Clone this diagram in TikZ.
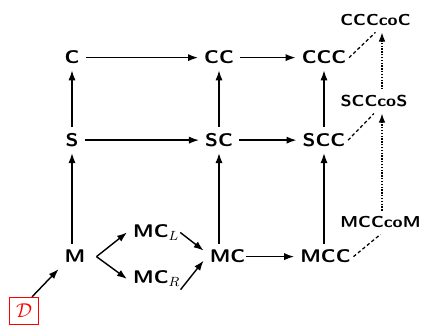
\documentclass[tikz,border=0pt]{standalone}
\usetikzlibrary{arrows.meta}
\newcommand\wtxt[1]{\scalebox{1.15}[1]{#1}}
\begin{document}
\begin{tikzpicture}[x=0.6pt,y=-0.6pt,
  lbl/.style={font=\fontsize{11}{13}\selectfont\sffamily\bfseries, inner sep=3.5pt},
  colbl/.style={font=\fontsize{9.5}{11}\selectfont\sffamily\bfseries, inner sep=3.5pt},
  arr/.style={-{Latex[length=6pt,width=4.3pt]}, line width=0.85pt},
  dsh/.style={dash pattern=on 2pt off 1.5pt, line width=0.75pt},
  dotarr/.style={dash pattern=on 0.8pt off 0.9pt, line width=0.8pt, -{Latex[length=5.5pt,width=4pt]}}]
\useasboundingbox (0,0) rectangle (421,330);
% nodes
\node[lbl,anchor=base] (C) at (72,64) {\wtxt{C}};
\node[lbl,anchor=base] (CC) at (219,64) {\wtxt{CC}};
\node[lbl,anchor=base] (CCC) at (324,64) {\wtxt{CCC}};
\node[lbl,anchor=base] (S) at (72,146.5) {\wtxt{S}};
\node[lbl,anchor=base] (SC) at (219,146.5) {\wtxt{SC}};
\node[lbl,anchor=base] (SCC) at (324,146.5) {\wtxt{SCC}};
\node[lbl,anchor=base] (M) at (75,263) {\wtxt{M}};
\node[lbl,anchor=base] (MC) at (227.5,263) {\wtxt{MC}};
\node[lbl,anchor=base] (MCC) at (325.5,263) {\wtxt{MCC}};
\node[lbl,anchor=base west] (MCL) at (127,237.5) {\wtxt{MC}$_L$};
\node[lbl,anchor=base west] (MCR) at (127,284) {\wtxt{MC}$_R$};
\node[colbl,anchor=base] (CCCcoC) at (375.5,26) {\wtxt{CCCcoC}};
\node[colbl,anchor=base] (SCCcoS) at (374,107) {\wtxt{SCCcoS}};
\node[colbl,anchor=base] (MCCcoM) at (380.5,228) {\wtxt{MCCcoM}};
\node[draw=red, text=red, line width=0.45pt, minimum width=17.5pt, minimum height=16.5pt, inner sep=0pt, font=\fontsize{12}{14}\selectfont] (D) at (24,311) {$\mathcal{D}$};
% solid arrows
\draw[arr] (C) -- (CC);
\draw[arr] (CC) -- (CCC);
\draw[arr] (S) -- (SC);
\draw[arr] (SC) -- (SCC);
\draw[arr] (S) -- (C);
\draw[arr] (SC) -- (CC);
\draw[arr] (SCC) -- (CCC);
\draw[arr] (M.north -| S) -- (S);
\draw[arr] (MC.north -| SC) -- (SC);
\draw[arr] (MCC.north -| SCC) -- (SCC);
\draw[arr] ([xshift=-3.5pt]MC.east) -- (MCC);
\draw[arr] ([xshift=3pt]M.east) -- (MCL.west);
\draw[arr] ([xshift=3pt]M.east) -- (MCR.west);
\draw[arr] ([xshift=-3pt]MCL.east) -- ([yshift=3.6pt]MC.west);
\draw[arr] ([xshift=-3.5pt,yshift=2pt]MCR.south east) -- ([yshift=-2.4pt]MC.west);
\draw[arr] ([xshift=4.8pt]D.north) -- (M.south west);
% dashed links
\draw[dsh] ([xshift=-2pt]CCC.east) -- (CCCcoC.south);
\draw[dsh] ([xshift=-2pt]SCC.east) -- (SCCcoS.south);
\draw[dsh] ([xshift=-2pt]MCC.east) -- (MCCcoM.south);
% dotted arrows
\coordinate (vx) at (382,0);
\draw[dotarr] (vx |- SCCcoS.north) -- (vx |- CCCcoC.south);
\draw[dotarr] (vx |- MCCcoM.north) -- (vx |- SCCcoS.south);
\end{tikzpicture}
\end{document}
